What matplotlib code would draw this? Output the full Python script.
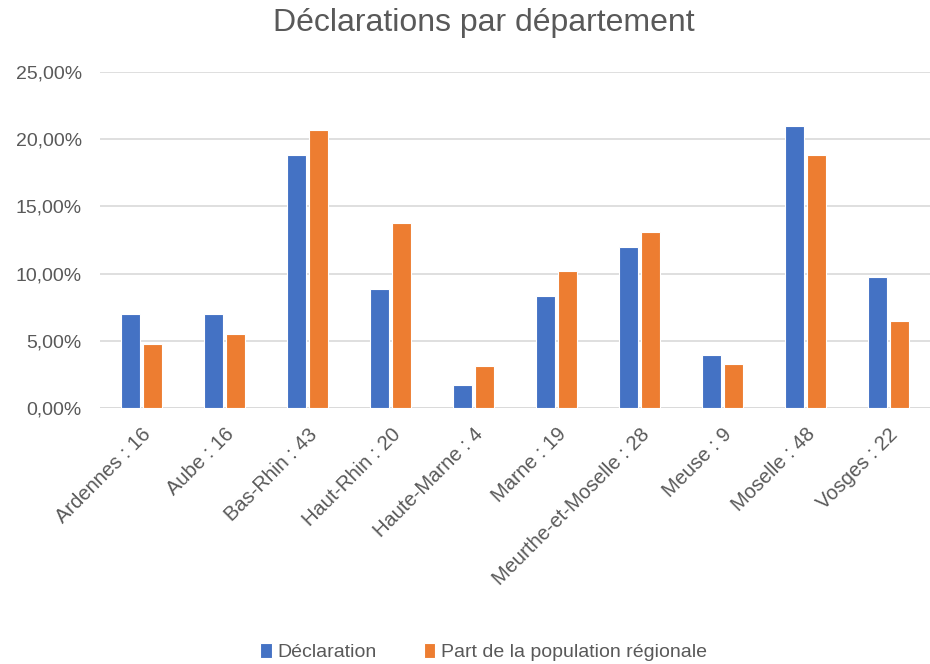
import matplotlib.pyplot as plt
import numpy as np
from matplotlib.ticker import FuncFormatter

# Données
departements = ['Ardennes : 16', 'Aube : 16', 'Bas-Rhin : 43', 'Haut-Rhin : 20',
                'Haute-Marne : 4', 'Marne : 19', 'Meurthe-et-Moselle : 28',
                'Meuse : 9', 'Moselle : 48', 'Vosges : 22']
declaration = [7.03, 7.03, 18.86, 8.87, 1.71, 8.32, 11.98, 3.95, 20.97, 9.72]
part_population = [4.80, 5.49, 20.70, 13.79, 3.13, 10.16, 13.10, 3.26, 18.86, 6.49]
yticks = [0, 5, 10, 15, 20, 25]

gris = '#595959'
plt.rcParams['font.family'] = ['Liberation Sans', 'DejaVu Sans']

fig = plt.figure(figsize=(9.3, 6.64), dpi=100)
ax = fig.add_axes([0.1075, 0.3855, 0.8925, 0.5061])

x = np.arange(len(departements))
w = 0.23
ax.bar(x - 0.137, declaration, w, color='#4472C4', edgecolor='white', linewidth=0.8,
       label='Déclaration', zorder=3)
ax.bar(x + 0.137, part_population, w, color='#ED7D31', edgecolor='white', linewidth=0.8,
       label='Part de la population régionale', zorder=3)

ax.set_xlim(-0.5, len(departements) - 0.5)
ax.set_ylim(0, 25)
ax.set_yticks(yticks)
ax.yaxis.set_major_formatter(FuncFormatter(lambda v, p: f'{v:.2f}%'.replace('.', ',')))
ax.grid(axis='y', color='#d9d9d9', linewidth=1.2, zorder=0)
for s in ['top', 'right', 'left', 'bottom']:
    ax.spines[s].set_visible(False)
ax.axhline(0, color='#d9d9d9', linewidth=1.2, zorder=1)
ax.tick_params(axis='both', length=0, labelcolor=gris)
ax.tick_params(axis='y', pad=13, labelsize=14)

ax.set_xticks(x)
ax.set_xticklabels(departements, rotation=45, ha='right', rotation_mode='anchor')
ax.tick_params(axis='x', pad=12, labelsize=14.5)

fig.text(0.52, 0.966, 'Déclarations par département', ha='center', va='center',
         fontsize=23, color=gris)

fig.legend(loc='center', bbox_to_anchor=(0.52, 0.018), ncol=2, frameon=False,
           fontsize=14, labelcolor=gris, handlelength=0.6, handleheight=0.8,
           handletextpad=0.3, columnspacing=2.4)

fig.savefig('out.png', dpi=100)
